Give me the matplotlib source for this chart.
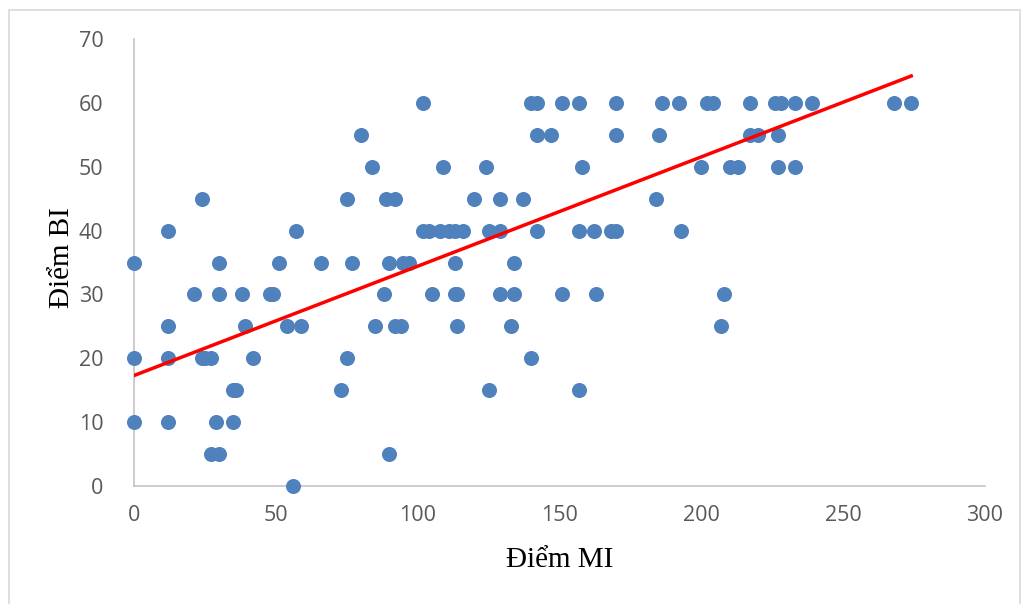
import numpy as np
import matplotlib.pyplot as plt
from matplotlib.patches import Rectangle

# Điểm MI / Điểm BI của từng học sinh
mi = [102, 140, 142, 151, 157, 170, 186, 192, 202, 204, 217, 226, 228, 233, 239, 268, 274,
      80, 142, 147, 170, 185, 217, 220, 227,
      84, 109, 124, 158, 200, 210, 213, 227, 233,
      24, 75, 89, 92, 120, 129, 137, 184,
      12, 57, 102, 104, 108, 111, 113, 116, 125, 129, 142, 157, 162, 168, 170, 193,
      0, 30, 51, 66, 77, 90, 95, 97, 113, 134,
      21, 30, 38, 48, 49, 88, 105, 113, 114, 129, 134, 151, 163, 208,
      12, 39, 54, 59, 85, 92, 94, 114, 133, 207,
      0, 12, 24, 25, 27, 42, 75, 140,
      35, 36, 73, 125, 157,
      0, 12, 29, 35,
      27, 30, 90,
      56]
bi = [60] * 17 + [55] * 8 + [50] * 9 + [45] * 8 + [40] * 16 + [35] * 10 + \
     [30] * 14 + [25] * 10 + [20] * 8 + [15] * 5 + [10] * 4 + [5] * 3 + [0]

# hệ số đường xu hướng (y = a*x + b) tính trên toàn bộ dữ liệu gốc
trend_slope = 0.1712
trend_intercept = 17.3

x_ticks = [0, 50, 100, 150, 200, 250, 300]
y_ticks = [0, 10, 20, 30, 40, 50, 60, 70]

mi = np.array(mi, dtype=float)
bi = np.array(bi, dtype=float)
xt = np.array([mi.min(), mi.max()])

fig = plt.figure(figsize=(10.23, 6.04), dpi=100)
fig.patches.append(Rectangle((9 / 1023, -0.1), 1011 / 1023, 1.1 - 10 / 604,
                             transform=fig.transFigure, fill=False,
                             edgecolor='#d9d9d9', linewidth=1.2))
ax = fig.add_axes([134 / 1023, 118 / 604, 851 / 1023, 447 / 604])

ax.scatter(mi, bi, s=117, color='#4f81bd', linewidths=0, zorder=3, clip_on=False)
ax.plot(xt, trend_slope * xt + trend_intercept, color='#ff0000', linewidth=2.5, zorder=4)

ax.set_xlim(0, 300)
ax.set_ylim(0, 70)
ax.set_xticks(x_ticks)
ax.set_yticks(y_ticks)

for side in ['top', 'right']:
    ax.spines[side].set_visible(False)
for side in ['left', 'bottom']:
    ax.spines[side].set_color('#bfbfbf')
    ax.spines[side].set_linewidth(1.1)

tick_font = ['Open Sans', 'DejaVu Sans']
ax.tick_params(length=0, labelsize=15.5, labelcolor='#595959')
ax.tick_params(axis='x', pad=14)
ax.tick_params(axis='y', pad=22)
for lbl in ax.get_xticklabels() + ax.get_yticklabels():
    lbl.set_family(tick_font)

ax.set_xlabel('Điểm MI', family='Liberation Serif', fontsize=21, va='center')
ax.set_ylabel('Điểm BI', family='Liberation Serif', fontsize=21, va='center')
ax.xaxis.set_label_coords(0.5, -0.1655)
ax.yaxis.set_label_coords(-0.0846, 0.51)

fig.savefig('out.png', dpi=100)
